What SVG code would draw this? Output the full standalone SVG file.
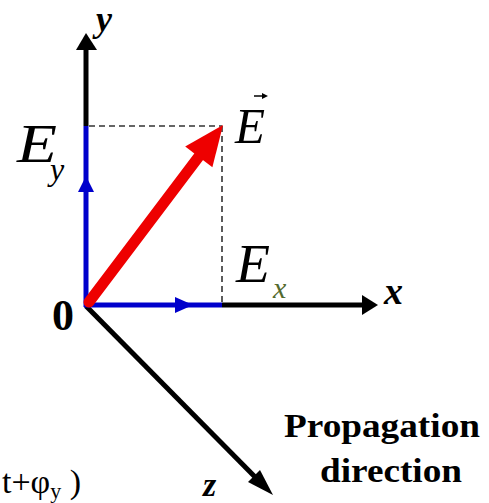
<svg xmlns="http://www.w3.org/2000/svg" width="489" height="503" viewBox="0 0 489 503">
<style>
.ax{stroke:#000;stroke-width:5;fill:none}
.bl{stroke:#0000cc;stroke-width:5;fill:none}
.dash{stroke:#333;stroke-width:1.6;stroke-dasharray:6,4;fill:none}
text{font-family:"Liberation Serif","Times New Roman","DejaVu Serif",serif}
.it{font-style:italic}
.bd{font-weight:bold}
</style>
<rect width="489" height="503" fill="#fff"/>
<g id="connectors">
<line class="dash" x1="89" y1="126" x2="222" y2="126"/>
<line class="dash" x1="222" y1="126" x2="222" y2="303"/>
<g id="y-axis">
<line class="ax" x1="86" y1="126" x2="86" y2="45"/>
<polygon points="86,33 76,50 97,50" fill="#000"/>
</g>
<g id="x-axis">
<line class="ax" x1="222" y1="305" x2="366" y2="305"/>
<polygon points="378,305 362,295 362,315" fill="#000"/>
</g>
<g id="z-axis">
<line class="ax" x1="86" y1="306" x2="262" y2="484"/>
<polygon points="273,495 248,482 260,470" fill="#000"/>
</g>
<g id="Ey-component">
<line class="bl" x1="86" y1="307" x2="86" y2="126"/>
<polygon points="86,176 78,192 94,192" fill="#0000cc"/>
</g>
<g id="Ex-component">
<line class="bl" x1="84" y1="305" x2="222" y2="305"/>
<polygon points="193,305 175,297 175,313" fill="#0000cc"/>
</g>
<g id="E-vector">
<line x1="89" y1="302" x2="200" y2="155" stroke="#ee0000" stroke-width="11" stroke-linecap="round"/>
<polygon points="223,125 212.4,167.2 185.2,146.6" fill="#ee0000"/>
</g>
</g>
<g id="labels">
<text x="96" y="31" font-size="36" class="it bd">y</text>
<text x="384" y="304" font-size="38" class="it bd">x</text>
<text x="203" y="496" font-size="34" class="it bd">z</text>
<text x="52" y="330" font-size="44" class="bd">0</text>
<g id="E-label">
<text x="235" y="143" font-size="50" class="it" textLength="30" lengthAdjust="spacingAndGlyphs">E</text>
<line x1="254" y1="96" x2="264" y2="96" stroke="#000" stroke-width="1.5"/>
<polygon points="268,96 262,93 262,99" fill="#000"/>
</g>
<g id="Ey-label">
<text x="17" y="162" font-size="54" class="it" textLength="40" lengthAdjust="spacingAndGlyphs">E</text>
<text x="50" y="180" font-size="32" class="it">y</text>
</g>
<g id="Ex-label">
<text x="236" y="282" font-size="54" class="it" textLength="34" lengthAdjust="spacingAndGlyphs">E</text>
<text x="273" y="298" font-size="30" class="it" fill="#556b2f">x</text>
</g>
<g id="propagation">
<text x="284" y="437" font-size="34" class="bd" textLength="196" lengthAdjust="spacingAndGlyphs">Propagation</text>
<text x="320" y="482" font-size="34" class="bd" textLength="142" lengthAdjust="spacingAndGlyphs">direction</text>
</g>
<text x="2" y="493" font-size="34">t+φ<tspan font-size="22" dy="5">y</tspan><tspan dy="-5"> )</tspan></text>
</g>
</svg>
